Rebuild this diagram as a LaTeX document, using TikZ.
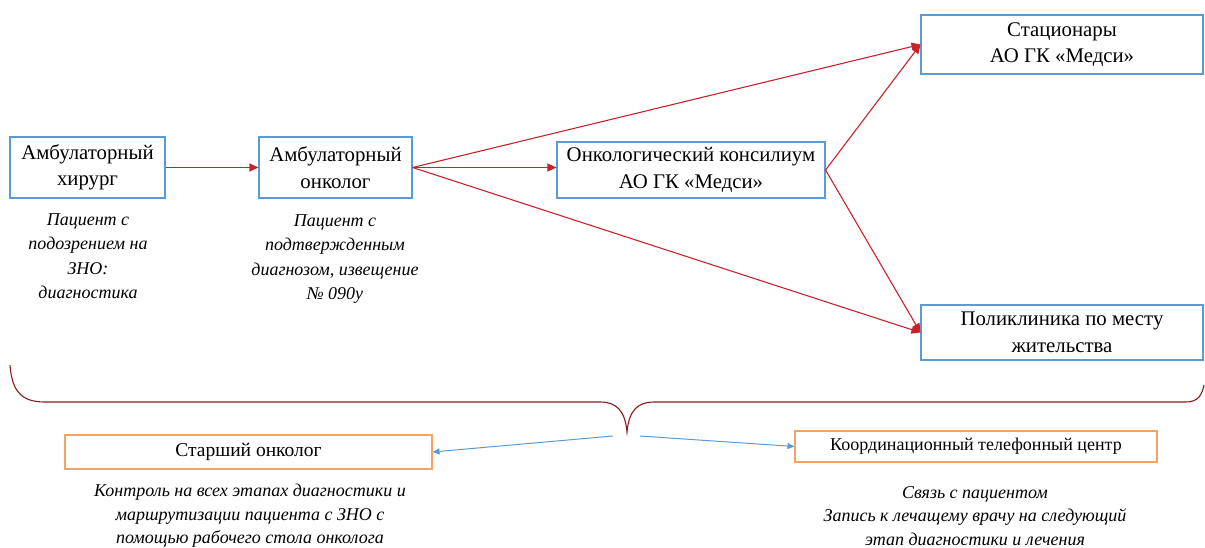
\documentclass[tikz,border=0pt]{standalone}
\usepackage{fontspec}
\setmainfont{Liberation Serif}
\usetikzlibrary{arrows.meta}
\definecolor{boxblue}{HTML}{5B9BD5}
\definecolor{boxorange}{HTML}{F4A460}
\definecolor{arrred}{HTML}{C8232B}
\definecolor{bracered}{HTML}{8B1A1A}
\definecolor{arrblue}{HTML}{5B9BD5}
\tikzset{
  bluebox/.style={draw=boxblue, line width=1.1pt, align=center, inner sep=0pt, font=\fontsize{20.8}{26.5}\selectfont},
  orangebox/.style={draw=boxorange, line width=1.1pt, align=center, inner sep=0pt},
  redarrow/.style={draw=arrred, line width=1.1pt, -{Triangle[length=9pt,width=8pt]}},
  bluearrow/.style={draw=arrblue, line width=1pt, -{Triangle[length=7pt,width=6pt]}},
  note/.style={align=center, font=\itshape\fontsize{18}{24.5}\selectfont, inner sep=0pt},
}
\begin{document}
\begin{tikzpicture}[x=1pt,y=-1pt]
\useasboundingbox (0,0) rectangle (1205,548);
% main boxes
\node[bluebox, minimum width=155pt, minimum height=61pt] (b1) at (87.5,167.5) {Амбулаторный\\хирург};
\node[bluebox, minimum width=153pt, minimum height=61pt] (b2) at (335.5,167.5) {Амбулаторный\\онколог};
\node[bluebox, minimum width=268pt, minimum height=56pt] (b3) at (691,170) {Онкологический консилиум\\АО ГК «Медси»};
\node[bluebox, minimum width=282pt, minimum height=59pt] (b4) at (1062,44.5) {Стационары\\АО ГК «Медси»};
\node[bluebox, minimum width=282pt, minimum height=55pt] (b5) at (1062,332.5) {Поликлиника по месту\\жительства};
% notes
\node[note] (n1) at (88,256) {Пациент с\\подозрением на\\ЗНО:\\диагностика};
\node[note] (n2) at (335,259) {Пациент с\\подтвержденным\\диагнозом, извещение\\№ 090у};
% arrows
\draw[redarrow] (b1.east) -- (b2.west);
\draw[redarrow] (b2.east) -- (b2.east -| b3.west);
\draw[redarrow] (b2.east) -- (b4.west);
\draw[redarrow] (b2.east) -- (b5.west);
\draw[redarrow] (b3.east) -- (b4.west);
\draw[redarrow] (b3.east) -- (b5.west);
% brace
\draw[bracered, line width=1.1pt] (10,365) .. controls (12,392) and (22,402) .. (45,402) -- (600,402) .. controls (616,402) and (625,410) .. (627,432) .. controls (629,410) and (638,402) .. (654,402) -- (1186,402) .. controls (1198,402) and (1202,395) .. (1204,385);
% bottom boxes
\node[orangebox, minimum width=367pt, minimum height=34pt, font=\fontsize{19.5}{23}\selectfont] (b6) at (248.5,452) {Старший онколог};
\node[orangebox, minimum width=362pt, minimum height=31pt, font=\fontsize{18}{22}\selectfont] (b7) at (976,446.5) {Координационный телефонный центр};
\coordinate (bl) at (613,436);
\coordinate (br) at (640,436);
\draw[bluearrow] (bl) -- (b6.east);
\draw[bluearrow] (br) -- (b7.west);
\node[note, font=\itshape\fontsize{18}{23.5}\selectfont] (n6) at (250,516) {Контроль на всех этапах диагностики и\\маршрутизации пациента с ЗНО с\\помощью рабочего стола онколога};
\node[note, font=\itshape\fontsize{18}{23.5}\selectfont] (n7) at (975,516) {Связь с пациентом\\Запись к лечащему врачу на следующий\\этап диагностики и лечения};
\end{tikzpicture}
\end{document}
